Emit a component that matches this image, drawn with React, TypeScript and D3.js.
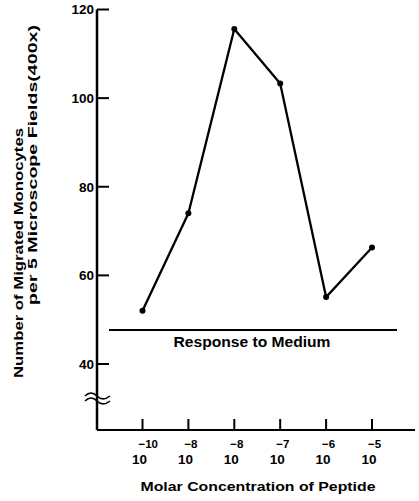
import React from "react";
import * as d3 from "d3";

const concentrations = ["1e-10", "1e-9", "1e-8", "1e-7", "1e-6", "1e-5"];
const exponentLabels = ["\u221210", "\u22128", "\u22128", "\u22127", "\u22126", "\u22125"];
const monocytes = [52, 74, 115.6, 103.3, 55.1, 66.3];
const yTicks = [40, 60, 80, 100, 120];
const mediumResponse = 47.7;

const W = 419;
const H = 501;
const FONT = "'Liberation Sans', Arial, Helvetica, sans-serif";

export default function App() {
  const x = d3.scalePoint<string>().domain(concentrations).range([142.5, 372]);
  const y = d3.scaleLinear().domain([40, 120]).range([364, 9.5]);
  const axisX = 97;
  const baseY = 430;
  const line = d3
    .line<number>()
    .x((_, i) => x(concentrations[i]) as number)
    .y((d) => y(d));

  const wave = (y0: number) =>
    `M85,${y0} C89,${y0 - 4} 93,${y0 - 4} 97,${y0} C101,${y0 + 4} 105,${y0 + 4} 110,${y0}`;

  return (
    <svg
      width={W}
      height={H}
      style={{ position: "absolute", left: 0, top: 0, background: "#fff" }}
      fontFamily={FONT}
      fontWeight="bold"
    >
      {/* y axis */}
      <line x1={axisX} x2={axisX} y1={y(120)} y2={baseY} stroke="#000" strokeWidth={2.5} />
      {yTicks.map((t) => (
        <g key={t}>
          <line x1={axisX} x2={axisX + 12} y1={y(t)} y2={y(t)} stroke="#000" strokeWidth={2} />
          <text x={axisX - 3} y={y(t)} dy="0.36em" textAnchor="end" fontSize={13.5}>
            {t}
          </text>
        </g>
      ))}
      {/* axis break */}
      <path d={wave(396)} fill="none" stroke="#000" strokeWidth={1.6} />
      <path d={wave(401)} fill="none" stroke="#000" strokeWidth={1.6} />

      {/* x axis */}
      <line x1={axisX} x2={415} y1={baseY} y2={baseY} stroke="#000" strokeWidth={2} />
      {concentrations.map((c, i) => {
        const cx = x(c) as number;
        return (
          <g key={c}>
            <line x1={cx} x2={cx} y1={baseY} y2={baseY - 11} stroke="#000" strokeWidth={2} />
            <text x={cx - 3} y={464} textAnchor="middle" fontSize={13.5}>
              10
            </text>
            <text x={cx - 4} y={448} textAnchor="start" fontSize={11.5}>
              {exponentLabels[i]}
            </text>
          </g>
        );
      })}

      {/* response to medium */}
      <line x1={109} x2={397} y1={y(mediumResponse)} y2={y(mediumResponse)} stroke="#000" strokeWidth={2} />
      <text x={252} y={347} textAnchor="middle" fontSize={14} textLength={157} lengthAdjust="spacingAndGlyphs">
        Response to Medium
      </text>

      {/* data */}
      <path d={line(monocytes) as string} fill="none" stroke="#000" strokeWidth={2.3} />
      {monocytes.map((v, i) => (
        <circle key={i} cx={x(concentrations[i]) as number} cy={y(v)} r={3} fill="#000" />
      ))}

      {/* titles */}
      <text
        transform="translate(23,378) rotate(-90)"
        textAnchor="start"
        fontSize={13}
        textLength={250}
        lengthAdjust="spacingAndGlyphs"
      >
        Number of Migrated Monocytes
      </text>
      <text
        transform="translate(37,305) rotate(-90)"
        textAnchor="start"
        fontSize={13}
        textLength={280}
        lengthAdjust="spacingAndGlyphs"
      >
        per 5 Microscope Fields(400x)
      </text>
      <text x={258} y={491} textAnchor="middle" fontSize={13.5} textLength={235} lengthAdjust="spacingAndGlyphs">
        Molar Concentration of Peptide
      </text>
    </svg>
  );
}
